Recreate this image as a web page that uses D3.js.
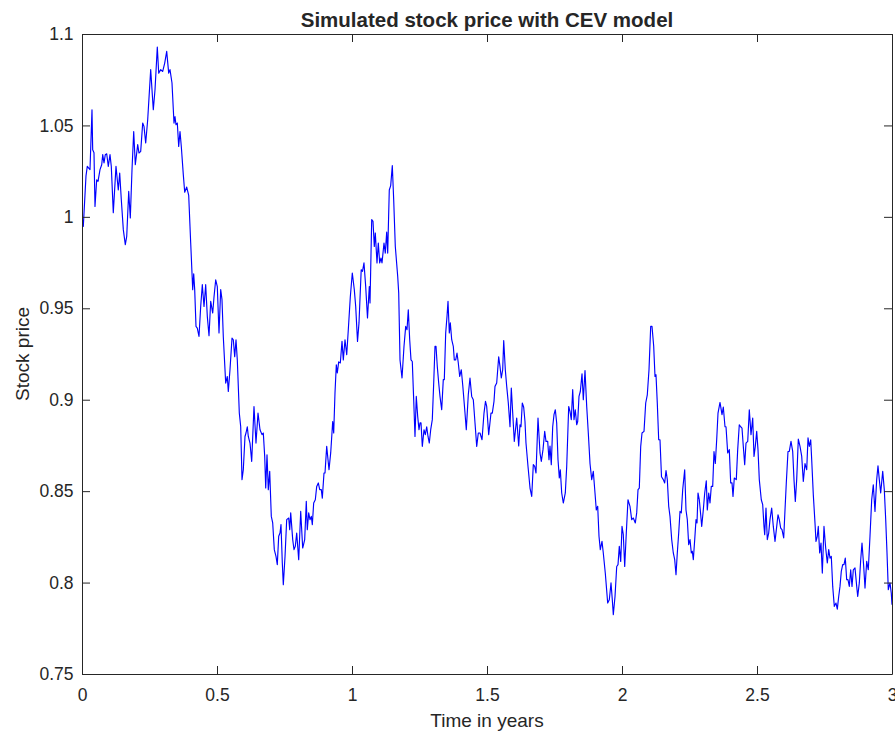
<!DOCTYPE html>
<html>
<head>
<meta charset="utf-8">
<script src="https://cdn.jsdelivr.net/npm/d3@7"></script>
<style>
  html, body { margin: 0; padding: 0; background: #ffffff; }
  svg { display: block; }
  text { font-family: "Liberation Sans", Arial, Helvetica, sans-serif; fill: #262626; }
</style>
</head>
<body>
<svg id="chart" width="895" height="731"></svg>
<script>
// Simulated CEV stock price path: time (years) and price
const years = [
  0, 0.0048, 0.0148, 0.0196, 0.0296, 0.0370, 0.0396, 0.0444, 0.0481, 0.0544,
  0.0593, 0.0667, 0.0730, 0.0767, 0.0815, 0.0863, 0.0915, 0.0974, 0.1037, 0.1085,
  0.1159, 0.1259, 0.1344, 0.1396, 0.1456, 0.1530, 0.1604, 0.1656, 0.1730, 0.1789,
  0.1852, 0.1915, 0.1974, 0.2063, 0.2111, 0.2174, 0.2248, 0.2296, 0.2359, 0.2433,
  0.2544, 0.2641, 0.2704, 0.2789, 0.2841, 0.2915, 0.2989, 0.3063, 0.3137, 0.3211,
  0.3259, 0.3333, 0.3407, 0.3444, 0.3481, 0.3530, 0.3581, 0.3630, 0.3678, 0.3752,
  0.3804, 0.3878, 0.3952, 0.4026, 0.4074, 0.4100, 0.4137, 0.4174, 0.4222, 0.4270,
  0.4333, 0.4396, 0.4456, 0.4519, 0.4581, 0.4641, 0.4704, 0.4767, 0.4841, 0.4889,
  0.4952, 0.5011, 0.5074, 0.5137, 0.5185, 0.5233, 0.5322, 0.5381, 0.5419, 0.5481,
  0.5556, 0.5604, 0.5656, 0.5704, 0.5752, 0.5826, 0.5878, 0.5926, 0.5974, 0.6037,
  0.6074, 0.6122, 0.6159, 0.6222, 0.6285, 0.6370, 0.6444, 0.6519, 0.6593, 0.6667,
  0.6715, 0.6767, 0.6804, 0.6852, 0.6900, 0.6952, 0.7011, 0.7063, 0.7122, 0.7185,
  0.7233, 0.7285, 0.7333, 0.7370, 0.7419, 0.7456, 0.7519, 0.7581, 0.7656, 0.7693,
  0.7730, 0.7804, 0.7852, 0.7900, 0.7952, 0.8026, 0.8100, 0.8174, 0.8248, 0.8307,
  0.8344, 0.8396, 0.8444, 0.8493, 0.8530, 0.8581, 0.8641, 0.8693, 0.8752, 0.8804,
  0.8863, 0.8900, 0.8963, 0.9000, 0.9063, 0.9148, 0.9211, 0.9285, 0.9322, 0.9370,
  0.9419, 0.9456, 0.9507, 0.9567, 0.9630, 0.9678, 0.9741, 0.9804, 0.9863, 0.9937,
  1.0011, 1.0085, 1.0137, 1.0204, 1.0259, 1.0341, 1.0389, 1.0444, 1.0507, 1.0574,
  1.0641, 1.0667, 1.0730, 1.0778, 1.0826, 1.0863, 1.0926, 1.0974, 1.1026, 1.1074,
  1.1111, 1.1185, 1.1233, 1.1285, 1.1322, 1.1381, 1.1433, 1.1493, 1.1544, 1.1604,
  1.1693, 1.1730, 1.1778, 1.1852, 1.1926, 1.1989, 1.2037, 1.2085, 1.2137, 1.2185,
  1.2233, 1.2285, 1.2333, 1.2381, 1.2433, 1.2481, 1.2519, 1.2556, 1.2604, 1.2667,
  1.2715, 1.2767, 1.2815, 1.2863, 1.2915, 1.2974, 1.3026, 1.3074, 1.3111, 1.3159,
  1.3211, 1.3259, 1.3322, 1.3381, 1.3419, 1.3470, 1.3519, 1.3556, 1.3604, 1.3641,
  1.3693, 1.3752, 1.3789, 1.3841, 1.3889, 1.3937, 1.3989, 1.4048, 1.4100, 1.4185,
  1.4233, 1.4307, 1.4370, 1.4433, 1.4493, 1.4556, 1.4619, 1.4678, 1.4741, 1.4815,
  1.4889, 1.4944, 1.4989, 1.5063, 1.5148, 1.5196, 1.5259, 1.5296, 1.5359, 1.5433,
  1.5481, 1.5530, 1.5581, 1.5619, 1.5678, 1.5730, 1.5789, 1.5852, 1.5900, 1.5952,
  1.6011, 1.6100, 1.6174, 1.6222, 1.6259, 1.6307, 1.6359, 1.6407, 1.6444, 1.6519,
  1.6593, 1.6656, 1.6715, 1.6767, 1.6815, 1.6889, 1.6963, 1.7011, 1.7074, 1.7137,
  1.7185, 1.7248, 1.7296, 1.7333, 1.7381, 1.7433, 1.7481, 1.7530, 1.7581, 1.7630,
  1.7678, 1.7715, 1.7767, 1.7826, 1.7900, 1.7952, 1.8026, 1.8074, 1.8122, 1.8174,
  1.8222, 1.8270, 1.8322, 1.8359, 1.8407, 1.8456, 1.8519, 1.8567, 1.8630, 1.8693,
  1.8752, 1.8815, 1.8878, 1.8937, 1.9000, 1.9048, 1.9100, 1.9148, 1.9196, 1.9259,
  1.9307, 1.9381, 1.9470, 1.9530, 1.9593, 1.9641, 1.9678, 1.9741, 1.9804, 1.9852,
  1.9900, 1.9952, 2.0000, 2.0048, 2.0100, 2.0159, 2.0222, 2.0296, 2.0359, 2.0419,
  2.0493, 2.0544, 2.0593, 2.0641, 2.0693, 2.0741, 2.0815, 2.0878, 2.0937, 2.1000,
  2.1063, 2.1111, 2.1174, 2.1222, 2.1259, 2.1307, 2.1359, 2.1407, 2.1463, 2.1530,
  2.1581, 2.1630, 2.1678, 2.1730, 2.1778, 2.1841, 2.1900, 2.1952, 2.2000, 2.2048,
  2.2100, 2.2148, 2.2196, 2.2248, 2.2322, 2.2370, 2.2419, 2.2470, 2.2519, 2.2567,
  2.2604, 2.2641, 2.2693, 2.2741, 2.2778, 2.2815, 2.2863, 2.2915, 2.2952, 2.3011,
  2.3063, 2.3122, 2.3159, 2.3211, 2.3259, 2.3307, 2.3359, 2.3407, 2.3456, 2.3507,
  2.3556, 2.3630, 2.3704, 2.3752, 2.3815, 2.3852, 2.3915, 2.3974, 2.4026, 2.4074,
  2.4111, 2.4159, 2.4233, 2.4285, 2.4344, 2.4396, 2.4444, 2.4493, 2.4544, 2.4593,
  2.4656, 2.4715, 2.4778, 2.4841, 2.4889, 2.4937, 2.4989, 2.5037, 2.5085, 2.5159,
  2.5211, 2.5259, 2.5285, 2.5333, 2.5381, 2.5433, 2.5481, 2.5544, 2.5604, 2.5667,
  2.5730, 2.5778, 2.5826, 2.5878, 2.5926, 2.5989, 2.6037, 2.6085, 2.6148, 2.6196,
  2.6259, 2.6322, 2.6370, 2.6419, 2.6470, 2.6530, 2.6593, 2.6656, 2.6715, 2.6778,
  2.6841, 2.6889, 2.6937, 2.6989, 2.7026, 2.7085, 2.7148, 2.7185, 2.7233, 2.7270,
  2.7322, 2.7370, 2.7419, 2.7481, 2.7544, 2.7604, 2.7656, 2.7704, 2.7752, 2.7804,
  2.7863, 2.7926, 2.7974, 2.8026, 2.8074, 2.8122, 2.8174, 2.8222, 2.8270, 2.8322,
  2.8370, 2.8419, 2.8470, 2.8519, 2.8567, 2.8630, 2.8693, 2.8730, 2.8789, 2.8841,
  2.8889, 2.8952, 2.9000, 2.9063, 2.9122, 2.9185, 2.9248, 2.9307, 2.9370, 2.9433,
  2.9481, 2.9530, 2.9581, 2.9656, 2.9715, 2.9767, 2.9815, 2.9863, 2.9926, 2.9974, 3.0000
];

const price = [
  1.0000, 0.9948, 1.0224, 1.0276, 1.0258, 1.0586, 1.0367, 1.0351, 1.0057, 1.0203,
  1.0194, 1.0258, 1.0285, 1.0340, 1.0295, 1.0340, 1.0345, 1.0276, 1.0340, 1.0276,
  1.0023, 1.0276, 1.0147, 1.0240, 1.0094, 0.9930, 0.9848, 0.9893, 1.0139, 0.9994,
  1.0258, 1.0467, 1.0285, 1.0395, 1.0349, 1.0358, 1.0513, 1.0495, 1.0404, 1.0531,
  1.0805, 1.0586, 1.0695, 1.0929, 1.0786, 1.0805, 1.0795, 1.0841, 1.0905, 1.0786,
  1.0805, 1.0732, 1.0513, 1.0549, 1.0504, 1.0513, 1.0385, 1.0467, 1.0385, 1.0231,
  1.0135, 1.0163, 1.0117, 0.9857, 0.9693, 0.9602, 0.9689, 0.9602, 0.9401, 0.9392,
  0.9346, 0.9510, 0.9629, 0.9510, 0.9629, 0.9456, 0.9350, 0.9538, 0.9474, 0.9562,
  0.9656, 0.9619, 0.9365, 0.9602, 0.9547, 0.9346, 0.9091, 0.9127, 0.9045, 0.9164,
  0.9337, 0.9328, 0.9235, 0.9328, 0.9218, 0.8927, 0.8852, 0.8563, 0.8617, 0.8799,
  0.8818, 0.8852, 0.8799, 0.8763, 0.8663, 0.8963, 0.8763, 0.8927, 0.8836, 0.8809,
  0.8818, 0.8690, 0.8517, 0.8699, 0.8508, 0.8608, 0.8362, 0.8326, 0.8180, 0.8143,
  0.8098, 0.8253, 0.8271, 0.8317, 0.8107, 0.7988, 0.8143, 0.8344, 0.8353, 0.8289,
  0.8381, 0.8235, 0.8180, 0.8198, 0.8271, 0.8125, 0.8389, 0.8189, 0.8235, 0.8444,
  0.8289, 0.8381, 0.8344, 0.8362, 0.8317, 0.8435, 0.8453, 0.8526, 0.8545, 0.8508,
  0.8508, 0.8462, 0.8599, 0.8599, 0.8745, 0.8617, 0.8709, 0.8881, 0.8818, 0.9037,
  0.9191, 0.9146, 0.9207, 0.9201, 0.9319, 0.9218, 0.9328, 0.9246, 0.9383, 0.9562,
  0.9693, 0.9602, 0.9510, 0.9319, 0.9420, 0.9711, 0.9702, 0.9748, 0.9619, 0.9447,
  0.9619, 0.9529, 0.9985, 0.9975, 0.9838, 0.9912, 0.9748, 0.9857, 0.9748, 0.9775,
  0.9748, 0.9857, 0.9802, 0.9917, 0.9802, 1.0147, 1.0171, 1.0280, 1.0094, 0.9838,
  0.9674, 0.9584, 0.9218, 0.9119, 0.9292, 0.9401, 0.9383, 0.9492, 0.9328, 0.9218,
  0.9209, 0.9000, 0.8799, 0.9018, 0.8909, 0.8836, 0.8873, 0.8873, 0.8745, 0.8836,
  0.8809, 0.8852, 0.8799, 0.8763, 0.8836, 0.8891, 0.9091, 0.9292, 0.9292, 0.9182,
  0.9091, 0.9018, 0.8945, 0.9110, 0.9110, 0.9365, 0.9456, 0.9538, 0.9365, 0.9420,
  0.9328, 0.9292, 0.9218, 0.9218, 0.9255, 0.9201, 0.9127, 0.9164, 0.9082, 0.8927,
  0.8836, 0.9027, 0.9119, 0.9018, 0.9000, 0.8873, 0.8745, 0.8818, 0.8818, 0.8781,
  0.8927, 0.8991, 0.8963, 0.8809, 0.8927, 0.8927, 0.8991, 0.9073, 0.9091, 0.9235,
  0.9182, 0.9119, 0.9164, 0.9324, 0.9164, 0.9073, 0.8982, 0.8852, 0.9064, 0.8927,
  0.8772, 0.8900, 0.8747, 0.8863, 0.8852, 0.8982, 0.8959, 0.8881, 0.8763, 0.8635,
  0.8517, 0.8471, 0.8645, 0.8635, 0.8599, 0.8900, 0.8709, 0.8663, 0.8727, 0.8827,
  0.8772, 0.8772, 0.8672, 0.8747, 0.8645, 0.8852, 0.8918, 0.8945, 0.8873, 0.8672,
  0.8572, 0.8617, 0.8490, 0.8435, 0.8490, 0.8635, 0.8963, 0.8936, 0.8891, 0.9055,
  0.8891, 0.8945, 0.8863, 0.8881, 0.9018, 0.9045, 0.9142, 0.9000, 0.9160, 0.8963,
  0.8818, 0.8651, 0.8563, 0.8608, 0.8490, 0.8397, 0.8417, 0.8253, 0.8180, 0.8225,
  0.8162, 0.8052, 0.7888, 0.7906, 0.7998, 0.7906, 0.7824, 0.7924, 0.8088, 0.8098,
  0.8198, 0.8116, 0.8307, 0.8262, 0.8088, 0.8271, 0.8453, 0.8417, 0.8344, 0.8353,
  0.8326, 0.8381, 0.8508, 0.8517, 0.8745, 0.8818, 0.8827, 0.8982, 0.9027, 0.9164,
  0.9401, 0.9401, 0.9292, 0.9127, 0.9137, 0.8982, 0.8781, 0.8781, 0.8579, 0.8563,
  0.8545, 0.8613, 0.8563, 0.8417, 0.8362, 0.8235, 0.8162, 0.8125, 0.8043, 0.8162,
  0.8271, 0.8389, 0.8381, 0.8508, 0.8617, 0.8397, 0.8344, 0.8207, 0.8235, 0.8162,
  0.8171, 0.8125, 0.8235, 0.8344, 0.8326, 0.8490, 0.8453, 0.8371, 0.8307, 0.8397,
  0.8490, 0.8557, 0.8397, 0.8490, 0.8435, 0.8526, 0.8526, 0.8717, 0.8651, 0.8781,
  0.8927, 0.8985, 0.8918, 0.8960, 0.8852, 0.8852, 0.8709, 0.8727, 0.8545, 0.8545,
  0.8471, 0.8572, 0.8563, 0.8727, 0.8863, 0.8852, 0.8845, 0.8745, 0.8645, 0.8763,
  0.8772, 0.8945, 0.8809, 0.8900, 0.8690, 0.8745, 0.8827, 0.8727, 0.8563, 0.8453,
  0.8426, 0.8307, 0.8262, 0.8408, 0.8235, 0.8271, 0.8344, 0.8408, 0.8307, 0.8225,
  0.8307, 0.8371, 0.8344, 0.8298, 0.8289, 0.8244, 0.8397, 0.8545, 0.8717, 0.8717,
  0.8772, 0.8717, 0.8563, 0.8444, 0.8563, 0.8785, 0.8745, 0.8690, 0.8553, 0.8651,
  0.8617, 0.8791, 0.8745, 0.8781, 0.8672, 0.8481, 0.8326, 0.8225, 0.8253, 0.8307,
  0.8162, 0.8216, 0.8052, 0.8307, 0.8189, 0.8107, 0.8180, 0.8134, 0.8143, 0.7979,
  0.7870, 0.7888, 0.7855, 0.7924, 0.7979, 0.8061, 0.8098, 0.8098, 0.8134, 0.8016,
  0.8016, 0.7979, 0.8070, 0.7979, 0.8070, 0.8080, 0.7979, 0.7924, 0.7998, 0.8125,
  0.8216, 0.8088, 0.7970, 0.8116, 0.8070, 0.8253, 0.8453, 0.8535, 0.8389, 0.8563,
  0.8639, 0.8563, 0.8490, 0.8608, 0.8508, 0.8344, 0.8162, 0.7961, 0.7998, 0.7941, 0.7879
];

// Axis ticks and their labels
const xTicks = [0, 0.5, 1, 1.5, 2, 2.5, 3];
const xTickLabels = ["0", "0.5", "1", "1.5", "2", "2.5", "3"];
const yTicks = [0.75, 0.8, 0.85, 0.9, 0.95, 1, 1.05, 1.1];
const yTickLabels = ["0.75", "0.8", "0.85", "0.9", "0.95", "1", "1.05", "1.1"];

const titleText = "Simulated stock price with CEV model";
const xLabelText = "Time in years";
const yLabelText = "Stock price";

// Layout
const margin = { top: 34, right: 3, bottom: 57, left: 82 };
const width = 895 - margin.left - margin.right;   // 810
const height = 731 - margin.top - margin.bottom;  // 640
const axisColor = "#262626";
const tickLen = 8;

const svg = d3.select("#chart");
const g = svg.append("g").attr("transform", `translate(${margin.left},${margin.top})`);

const x = d3.scaleLinear().domain([0, 3]).range([0, width]);
const y = d3.scaleLinear().domain([0.75, 1.1]).range([height, 0]);

// Clip the path to the axes box
svg.append("defs").append("clipPath").attr("id", "plot-clip")
  .append("rect").attr("width", width).attr("height", height);

const series = years.map((t, i) => ({ t, p: price[i] }));
const line = d3.line().x(d => x(d.t)).y(d => y(d.p));

g.append("path")
  .datum(series)
  .attr("clip-path", "url(#plot-clip)")
  .attr("fill", "none")
  .attr("stroke", "#0000ff")
  .attr("stroke-width", 1.15)
  .attr("stroke-linejoin", "round")
  .attr("d", line);

// Axes: inward ticks on all four sides (box on), labels on bottom and left
const fmtX = (d, i) => xTickLabels[i];
const fmtY = (d, i) => yTickLabels[i];

const styleAxis = sel => {
  sel.selectAll(".domain").attr("stroke", axisColor).attr("stroke-width", 1);
  sel.selectAll(".tick line").attr("stroke", axisColor).attr("stroke-width", 1);
  sel.selectAll(".tick text").attr("fill", axisColor)
    .style("font-size", "17.5px")
    .style("font-family", '"Liberation Sans", Arial, Helvetica, sans-serif');
};

g.append("g")
  .attr("transform", `translate(0,${height})`)
  .call(d3.axisBottom(x).tickValues(xTicks).tickFormat(fmtX)
    .tickSizeInner(-tickLen).tickSizeOuter(0).tickPadding(14.5))
  .call(styleAxis);

g.append("g")
  .call(d3.axisTop(x).tickValues(xTicks).tickFormat("")
    .tickSizeInner(-tickLen).tickSizeOuter(0))
  .call(styleAxis);

g.append("g")
  .call(d3.axisLeft(y).tickValues(yTicks).tickFormat(fmtY)
    .tickSizeInner(-tickLen).tickSizeOuter(0).tickPadding(8.5))
  .call(styleAxis);

g.append("g")
  .attr("transform", `translate(${width},0)`)
  .call(d3.axisRight(y).tickValues(yTicks).tickFormat("")
    .tickSizeInner(-tickLen).tickSizeOuter(0))
  .call(styleAxis);

svg.selectAll(".tick text").attr("font-size", null);

// Title and axis labels
svg.append("text")
  .attr("x", margin.left + width / 2)
  .attr("y", 27)
  .attr("text-anchor", "middle")
  .style("font-size", "20.5px")
  .style("font-weight", "bold")
  .text(titleText);

svg.append("text")
  .attr("x", margin.left + width / 2)
  .attr("y", 726.5)
  .attr("text-anchor", "middle")
  .style("font-size", "19px")
  .text(xLabelText);

svg.append("text")
  .attr("transform", `translate(28.5,${margin.top + height / 2}) rotate(-90)`)
  .attr("text-anchor", "middle")
  .style("font-size", "19px")
  .text(yLabelText);
</script>
</body>
</html>
